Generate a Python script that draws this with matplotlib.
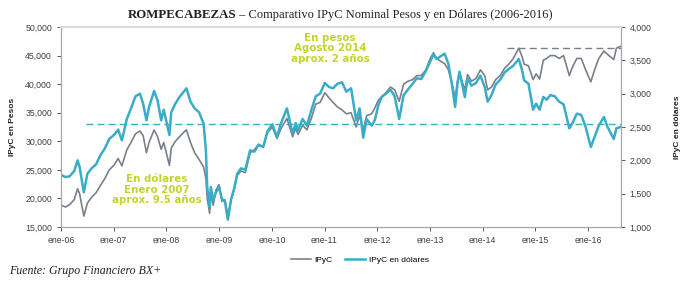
import matplotlib.pyplot as plt
import pandas as pd
from matplotlib.ticker import FuncFormatter

# valores (aprox.)
fechas = [
    "2006-01-02", "2006-02-01", "2006-03-01", "2006-04-03", "2006-04-26", "2006-05-10",
    "2006-06-08", "2006-07-03", "2006-08-01", "2006-09-01", "2006-10-02", "2006-11-01",
    "2006-12-01", "2007-01-02", "2007-02-01", "2007-02-27", "2007-04-02", "2007-05-01",
    "2007-06-01", "2007-07-02", "2007-07-24", "2007-08-16", "2007-09-03", "2007-10-08",
    "2007-11-01", "2007-11-26", "2007-12-14", "2008-01-22", "2008-02-04", "2008-03-03",
    "2008-04-01", "2008-05-01", "2008-05-19", "2008-06-16", "2008-07-15", "2008-08-15",
    "2008-09-15", "2008-10-01", "2008-10-10", "2008-10-27", "2008-11-04", "2008-11-20",
    "2008-12-10", "2008-12-31", "2009-01-20", "2009-02-10", "2009-03-02", "2009-03-25",
    "2009-04-15", "2009-05-06", "2009-06-01", "2009-07-01", "2009-08-03", "2009-09-01",
    "2009-10-01", "2009-11-02", "2009-12-01", "2010-01-04", "2010-02-05", "2010-03-01",
    "2010-04-15", "2010-05-25", "2010-06-15", "2010-07-01", "2010-08-02", "2010-09-01",
    "2010-10-01", "2010-11-01", "2010-12-01", "2011-01-03", "2011-02-01", "2011-03-01",
    "2011-04-01", "2011-05-02", "2011-06-01", "2011-07-04", "2011-08-08", "2011-09-01",
    "2011-09-26", "2011-10-20", "2011-11-23", "2011-12-15", "2012-01-09", "2012-02-01",
    "2012-03-01", "2012-04-02", "2012-05-01", "2012-06-01", "2012-07-02", "2012-08-01",
    "2012-09-03", "2012-10-01", "2012-11-01", "2012-12-03", "2013-01-02", "2013-01-25",
    "2013-02-15", "2013-03-15", "2013-04-12", "2013-05-08", "2013-06-04", "2013-06-24",
    "2013-07-10", "2013-07-24", "2013-08-30", "2013-09-18", "2013-10-15", "2013-11-15",
    "2013-12-16", "2014-01-15", "2014-02-04", "2014-03-03", "2014-04-01", "2014-05-02",
    "2014-06-02", "2014-07-01", "2014-08-01", "2014-09-08", "2014-10-01", "2014-10-15",
    "2014-11-14", "2014-12-16", "2015-01-06", "2015-01-30", "2015-02-25", "2015-03-20",
    "2015-04-15", "2015-05-15", "2015-06-15", "2015-07-15", "2015-08-24", "2015-09-15",
    "2015-10-15", "2015-11-15", "2015-12-15", "2016-01-20", "2016-02-15", "2016-03-15",
    "2016-04-20", "2016-05-15", "2016-06-27", "2016-07-15", "2016-08-12",
]

ipyc_pesos = [
    18800, 18500, 18900, 19800, 21700, 20800,
    16900, 19200, 20200, 21000, 22300, 23500,
    25000, 25800, 27000, 25700, 28500, 29800,
    31300, 31800, 31000, 28000, 29800, 32000,
    30800, 28600, 29800, 25800, 28800, 30000,
    30800, 31600, 32000, 29800, 28000, 26800,
    25500, 23500, 20000, 17400, 21000, 18800,
    21500, 22400, 19500, 19800, 16900, 19800,
    21500, 24000, 24800, 24500, 28000, 28500,
    29500, 29000, 31500, 32500, 30500, 32000,
    34000, 30800, 32300, 31200, 32800, 32000,
    34000, 36500, 36800, 38500, 37600, 36800,
    36000, 35500, 34800, 35000, 32500, 34500,
    32000, 34500, 34800, 35800, 37200, 37800,
    38500, 39500, 39000, 37000, 40000, 40500,
    40800, 41500, 41500, 42500, 44500, 45500,
    44500, 44000, 43600, 42500, 40000, 37500,
    40500, 41800, 39000, 41700, 40500, 41000,
    42500, 41500, 39000, 39500, 40800, 41500,
    42800, 43500, 44500, 46300, 44800, 43500,
    43200, 40800, 41800, 40900, 44200, 44500,
    45000, 45000, 44500, 45000, 41500, 43000,
    44500, 44500, 42500, 40400, 42500, 44500,
    45800, 45200, 44300, 46300, 46600,
]

ipyc_dolares = [
    1780, 1750, 1760, 1840, 2000, 1900,
    1520, 1800, 1880, 1940, 2080, 2180,
    2320, 2380, 2460, 2300, 2620, 2780,
    2960, 3000, 2850, 2600, 2800, 3040,
    2900, 2600, 2760, 2380, 2720, 2850,
    2950, 3030, 3080, 2880, 2780, 2720,
    2550, 2150, 1600, 1300, 1600, 1400,
    1520, 1600, 1420, 1380, 1110, 1420,
    1580, 1800, 1880, 1860, 2150, 2130,
    2230, 2200, 2430, 2540, 2350, 2530,
    2780, 2400, 2560, 2450, 2620, 2520,
    2750, 2960, 3000, 3160, 3100, 3080,
    3150, 3170, 3030, 3080, 2600, 2780,
    2340, 2620, 2520, 2600, 2830, 2950,
    3000, 3060, 2960, 2620, 2980, 3060,
    3150, 3230, 3220, 3340, 3480, 3590,
    3520, 3560, 3600, 3450, 3100, 2800,
    3150, 3330, 2950, 3230, 3120, 3160,
    3270, 3100, 2880, 2980, 3140, 3210,
    3320, 3370, 3420, 3520, 3350, 3200,
    3150, 2760, 2850, 2760, 2950, 2910,
    2980, 2960, 2880, 2840, 2480, 2560,
    2700, 2680, 2500, 2200, 2350, 2520,
    2650, 2500, 2320, 2480, 2500,
]

nivel_dolares = 2540      # linea punteada azul (enero 2007)
nivel_pesos = 46380       # linea punteada gris (agosto 2014)

anios = [str(a) for a in range(2006, 2017)]
etiquetas_x = ["ene-" + a[2:] for a in anios]

gris = "#7a808b"
azul = "#39adc7"
verde = "#c2d52c"
texto = "#404040"


def main():
    df = pd.DataFrame({"pesos": ipyc_pesos, "dolares": ipyc_dolares},
                      index=pd.to_datetime(fechas))

    fig = plt.figure(figsize=(6.86, 2.88), dpi=100)
    ax = fig.add_axes([61 / 686, 61 / 288, 559.7 / 686, 200 / 288])
    ax2 = ax.twinx()

    l1, = ax.plot(df.index, df["pesos"], color=gris, lw=1.2, label="IPyC")
    l2, = ax2.plot(df.index, df["dolares"], color=azul, lw=1.8, label="IPyC en dólares")

    # lineas punteadas de referencia
    ax2.plot([pd.Timestamp("2006-06-20"), pd.Timestamp("2016-08-14")],
             [nivel_dolares, nivel_dolares], color=azul, lw=1.0, ls=(0, (5, 3)))
    ax.plot([pd.Timestamp("2014-06-15"), pd.Timestamp("2016-08-14")],
            [nivel_pesos, nivel_pesos], color=gris, lw=1.0, ls=(0, (5, 3)))

    ax.set_xlim(pd.Timestamp("2006-01-01"), pd.Timestamp("2016-08-14"))
    ax.set_ylim(15000, 50000)
    ax2.set_ylim(1000, 4000)
    ax.set_yticks(range(15000, 50001, 5000))
    ax2.set_yticks(range(1000, 4001, 500))
    fmt = FuncFormatter(lambda v, p: f"{int(v):,}")
    ax.yaxis.set_major_formatter(fmt)
    ax2.yaxis.set_major_formatter(fmt)

    ax.set_xticks([pd.Timestamp(a + "-01-01") for a in anios])
    ax.set_xticklabels(etiquetas_x)

    for a in (ax, ax2):
        a.tick_params(labelsize=6.3, colors=texto, length=3, width=0.6)
        for s in a.spines.values():
            s.set_color("#a6a6a6")
            s.set_linewidth(0.8)
        a.spines["top"].set_color("#d9d9d9")
        a.spines["top"].set_linewidth(1.5)
    for lab in ax.get_xticklabels() + ax.get_yticklabels() + ax2.get_yticklabels():
        lab.set_fontfamily("Liberation Sans")

    ax.set_ylabel("IPyC en Pesos", fontsize=6, fontweight="bold", family="Liberation Sans",
                  color="#222222")
    ax2.set_ylabel("IPyC en dólares", fontsize=6, fontweight="bold", family="Liberation Sans",
                   color="#222222")
    ax.yaxis.set_label_coords(-0.080, 0.5)
    ax2.yaxis.set_label_coords(1.095, 0.5)

    # anotaciones
    kw = dict(color=verde, fontsize=7.4, fontweight="bold", family="DejaVu Sans",
              ha="center", va="center")
    for i, t in enumerate(["En pesos", "Agosto 2014", "aprox. 2 años"]):
        fig.text(330 / 686, 1 - (38 + 10.4 * i) / 288, t, **kw)
    for i, t in enumerate(["En dólares", "Enero 2007", "aprox. 9.5 años"]):
        fig.text(157 / 686, 1 - (179.5 + 10.4 * i) / 288, t, **kw)

    # titulo
    fig.text(128 / 686, 1 - 15 / 288, "ROMPECABEZAS", fontsize=9.3, fontweight="bold",
             family="Liberation Serif", color="#222222", va="center", ha="left")
    fig.text(236 / 686, 1 - 15 / 288, " – Comparativo IPyC Nominal Pesos y en Dólares (2006-2016)",
             fontsize=9.0, family="Liberation Serif", color="#222222", va="center", ha="left")

    fig.legend(handles=[l1, l2], loc="center", bbox_to_anchor=(360 / 686, 1 - 260 / 288),
               ncol=2, frameon=False, handlelength=2.4, columnspacing=1.5,
               handletextpad=0.4, prop={"family": "Liberation Sans", "size": 6})

    fig.text(9 / 686, 1 - 271 / 288, "Fuente: Grupo Financiero BX+", fontsize=8.6,
             style="italic", family="Liberation Serif", color="#222222", va="center")

    fig.savefig("out.png", dpi=100, facecolor="white")


main()
